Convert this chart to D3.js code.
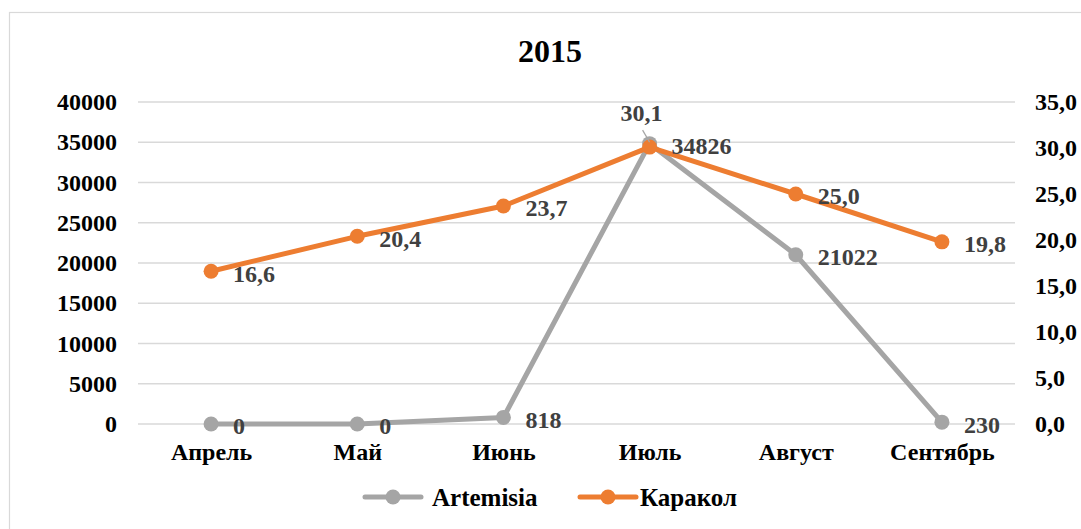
<!DOCTYPE html>
<html>
<head>
<meta charset="utf-8">
<script src="https://cdn.jsdelivr.net/npm/d3@7"></script>
<style>
  html, body { margin: 0; padding: 0; background: #fff; }
  svg { display: block; font-family: "Liberation Serif", "Times New Roman", serif; font-weight: bold; }
</style>
</head>
<body>
<div id="chart"></div>
<script>
const WIDTH = 1081;
const HEIGHT = 529;

const months = ["Апрель", "Май", "Июнь", "Июль", "Август", "Сентябрь"];
const artemisia = [0, 0, 818, 34826, 21022, 230];
const karakol = [16.6, 20.4, 23.7, 30.1, 25.0, 19.8];
const leftTicks = [0, 5000, 10000, 15000, 20000, 25000, 30000, 35000, 40000];
const rightTicks = [0, 5, 10, 15, 20, 25, 30, 35];

const GRAY = "#a5a5a5";
const ORANGE = "#ed7d31";
const LABEL = "#404040";
const FS = 24;

const plot = { left: 138, right: 1015, top: 102, bottom: 424 };

const svg = d3.select("#chart").append("svg")
  .attr("width", WIDTH)
  .attr("height", HEIGHT);

// chart frame
svg.append("rect")
  .attr("x", 9.5).attr("y", 12.5)
  .attr("width", 1090).attr("height", 540)
  .attr("fill", "none")
  .attr("stroke", "#d9d9d9")
  .attr("stroke-width", 1.2);

const x = d3.scalePoint().domain(months).range([plot.left, plot.right]).padding(0.5);
const yL = d3.scaleLinear().domain([0, 40000]).range([plot.bottom, plot.top]);
const yR = d3.scaleLinear().domain([0, 35]).range([plot.bottom, plot.top]);

// title
svg.append("text")
  .attr("x", 550).attr("y", 62)
  .attr("text-anchor", "middle")
  .attr("font-size", 32)
  .attr("fill", "#000")
  .text("2015");

// gridlines
svg.append("g")
  .selectAll("line")
  .data(leftTicks)
  .join("line")
  .attr("x1", plot.left).attr("x2", plot.right)
  .attr("y1", d => yL(d)).attr("y2", d => yL(d))
  .attr("stroke", "#d9d9d9")
  .attr("stroke-width", 1.5);

function styleAxis(g) {
  g.attr("font-family", null).attr("font-size", FS);
  g.select(".domain").remove();
  g.selectAll("text").attr("fill", "#000");
}

// left axis
svg.append("g")
  .attr("transform", `translate(${plot.left},0)`)
  .call(d3.axisLeft(yL).tickValues(leftTicks).tickFormat(d3.format("d")).tickSize(0).tickPadding(21))
  .call(styleAxis);

// right axis
svg.append("g")
  .attr("transform", `translate(${plot.right},0)`)
  .call(d3.axisRight(yR).tickValues(rightTicks).tickFormat(d => d3.format(".1f")(d).replace(".", ",")).tickSize(0).tickPadding(20))
  .call(styleAxis);

// category axis
svg.append("g")
  .attr("transform", `translate(0,${plot.bottom})`)
  .call(d3.axisBottom(x).tickSize(0).tickPadding(19))
  .call(styleAxis);

// series
function drawSeries(values, yScale, color) {
  const line = d3.line()
    .x((d, i) => x(months[i]))
    .y(d => yScale(d));
  const g = svg.append("g");
  g.append("path")
    .datum(values)
    .attr("d", line)
    .attr("fill", "none")
    .attr("stroke", color)
    .attr("stroke-width", 5)
    .attr("stroke-linejoin", "round");
  g.selectAll("circle")
    .data(values)
    .join("circle")
    .attr("cx", (d, i) => x(months[i]))
    .attr("cy", d => yScale(d))
    .attr("r", 7.5)
    .attr("fill", color);
}

drawSeries(artemisia, yL, GRAY);
drawSeries(karakol, yR, ORANGE);

// data labels
const labels = svg.append("g")
  .attr("font-size", FS)
  .attr("fill", LABEL);

labels.selectAll("text.art")
  .data(artemisia)
  .join("text")
  .attr("class", "art")
  .attr("x", (d, i) => x(months[i]) + 22)
  .attr("y", d => yL(d) + 2)
  .attr("dy", "0.35em")
  .text(d => d3.format("d")(d));

labels.selectAll("text.kar")
  .data(karakol)
  .join("text")
  .attr("class", "kar")
  .attr("x", (d, i) => i === 3 ? x(months[i]) - 8 : x(months[i]) + 22)
  .attr("y", (d, i) => i === 3 ? yR(d) - 26 : yR(d) + 2)
  .attr("dy", (d, i) => i === 3 ? 0 : "0.35em")
  .attr("text-anchor", (d, i) => i === 3 ? "middle" : "start")
  .text(d => d3.format(".1f")(d).replace(".", ","));

// leader line for the Июль label
svg.append("line")
  .attr("x1", x("Июль") - 7).attr("y1", yR(karakol[3]) - 17)
  .attr("x2", x("Июль")).attr("y2", yR(karakol[3]) - 5)
  .attr("stroke", GRAY)
  .attr("stroke-width", 1.2);

// legend
const legendItems = [
  { name: "Artemisia", color: GRAY, x: 365, dx: 67 },
  { name: "Каракол", color: ORANGE, x: 580, dx: 60 }
];
const legend = svg.append("g").attr("transform", "translate(0,497)");
const item = legend.selectAll("g")
  .data(legendItems)
  .join("g")
  .attr("transform", d => `translate(${d.x},0)`);
item.append("line")
  .attr("x1", 0).attr("x2", 56)
  .attr("stroke", d => d.color)
  .attr("stroke-width", 5)
  .attr("stroke-linecap", "round");
item.append("circle")
  .attr("cx", 28).attr("r", 7.5)
  .attr("fill", d => d.color);
item.append("text")
  .attr("x", d => d.dx)
  .attr("dy", "0.35em")
  .attr("font-size", 25)
  .attr("fill", "#000")
  .text(d => d.name);
</script>
</body>
</html>
